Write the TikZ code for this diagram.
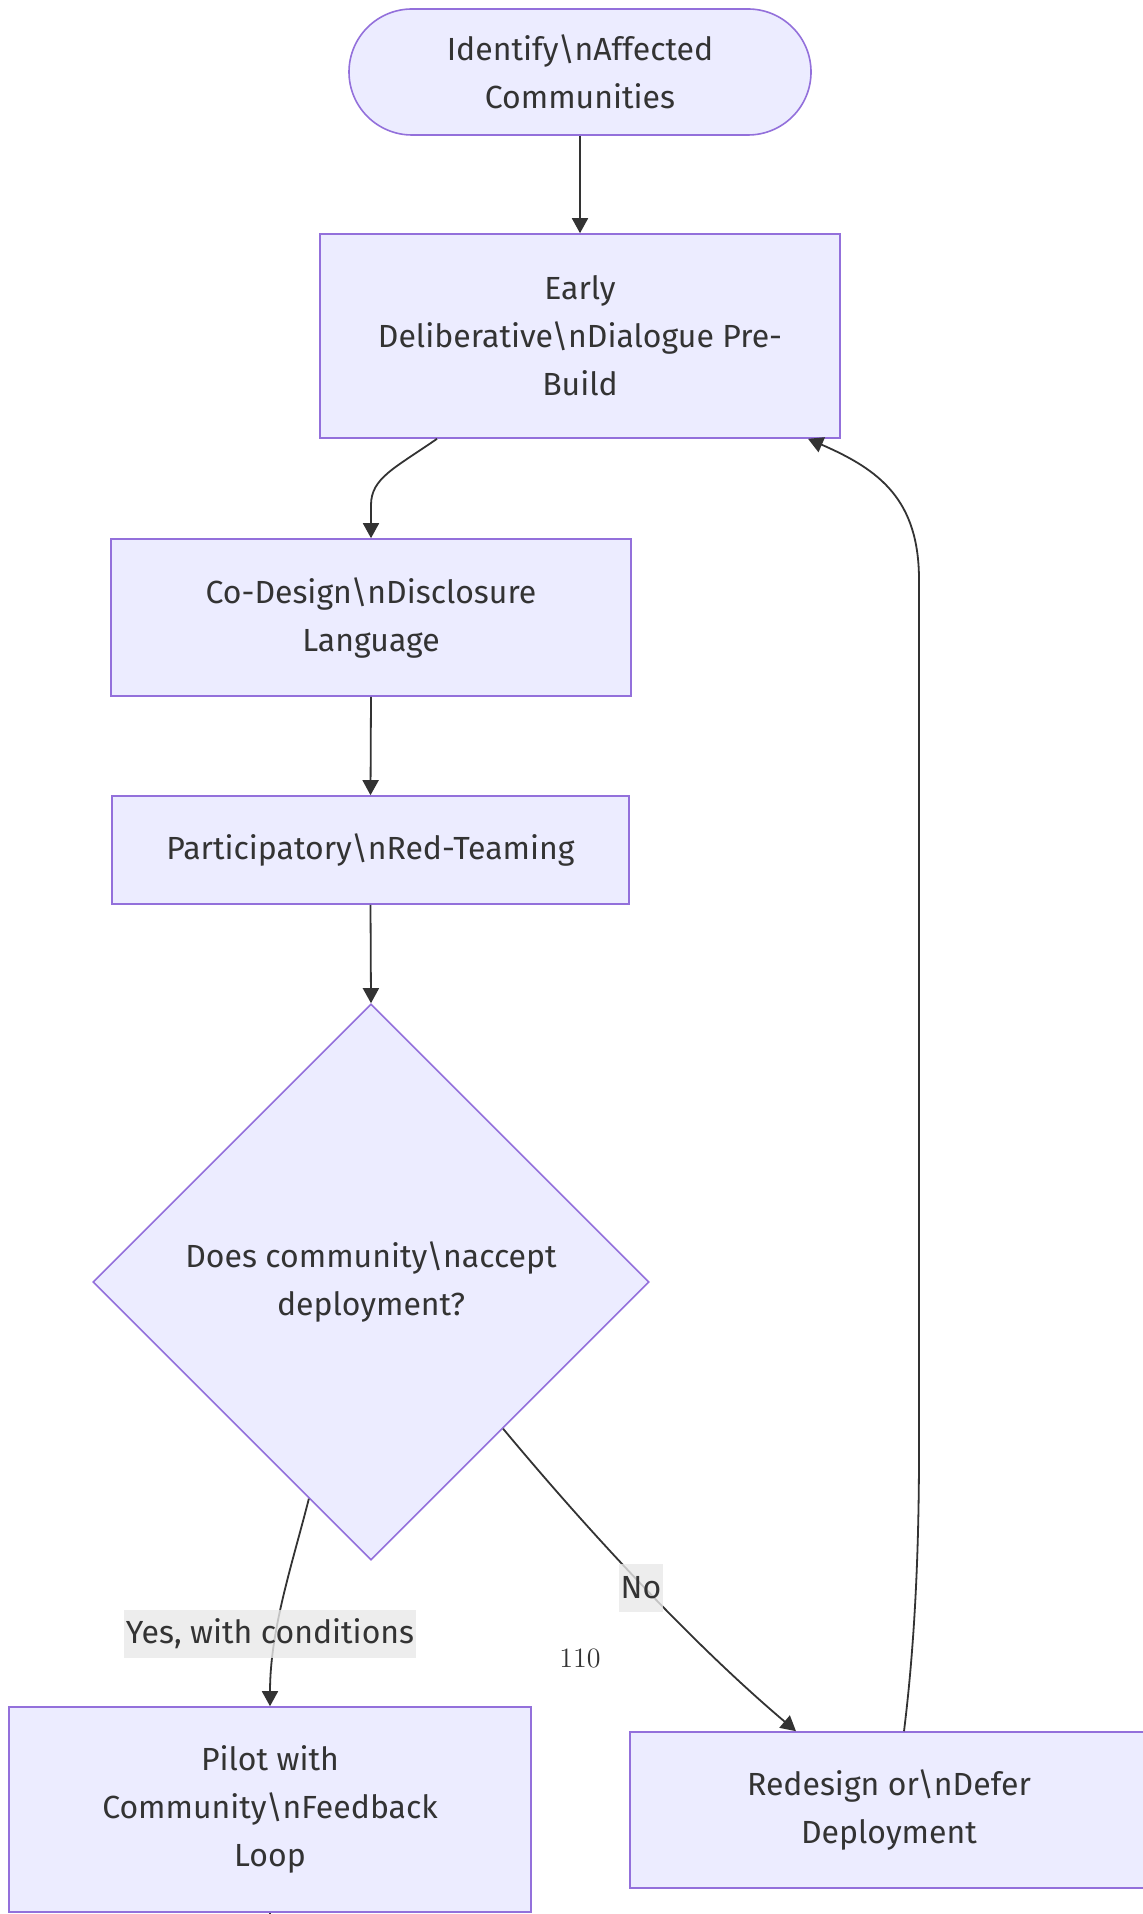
\documentclass[tikz,border=0pt]{standalone}
\usepackage{fontspec}
\setmainfont{Fira Sans}
\usetikzlibrary{arrows.meta,shapes.geometric}
\definecolor{nodefill}{HTML}{ECECFF}
\definecolor{nodeline}{HTML}{9370DB}
\definecolor{ink}{HTML}{333333}
\definecolor{lblfill}{HTML}{E8E8E8}
\newcommand{\bs}{\textbackslash}

\begin{document}
\begin{tikzpicture}[x=0.5pt,y=-0.5pt,
  txt/.style={font=\fontsize{16}{24}\selectfont, text=ink, align=center},
  box/.style={txt, draw=nodeline, fill=nodefill, line width=0.8pt, inner sep=0pt},
  stadium/.style={box, rounded corners=31.5pt},
  decision/.style={box, diamond, aspect=1, minimum width=278pt, minimum height=278pt},
  flow/.style={draw=ink, line width=0.9pt, -{Triangle[length=7.5pt,width=8pt]}},
  plain/.style={draw=ink, line width=0.9pt},
  elabel/.style={txt, fill=lblfill, fill opacity=0.8, text opacity=1, inner xsep=1pt, inner ysep=0pt, minimum height=24pt}
]
\useasboundingbox (0,0) rectangle (1143,1914);

% process nodes
\node[stadium, minimum width=231pt, minimum height=63pt] (id) at (580,72)
  {Identify\bs nAffected\\Communities};
\node[box, minimum width=260pt, minimum height=102pt] (early) at (580,336)
  {Early\\Deliberative\bs nDialogue Pre-\\Build};
\node[box, minimum width=260pt, minimum height=78.5pt] (codesign) at (371,617.5)
  {Co-Design\bs nDisclosure\\Language};
\node[box, minimum width=258.5pt, minimum height=54pt] (redteam) at (370.5,850)
  {Participatory\bs nRed-Teaming};
\node[decision] (accept) at (371,1282)
  {Does community\bs naccept\\deployment?};
\node[box, minimum width=261pt, minimum height=102.5pt] (pilot) at (270,1809.5)
  {Pilot with\\Community\bs nFeedback\\Loop};
\node[box, minimum width=259pt, minimum height=78pt] (redesign) at (889,1810)
  {Redesign or\bs nDefer\\Deployment};

\coordinate (pilotout) at (270,1940);

% connectors
\draw[flow] (id.south) -- (early.north);
\draw[flow] ([xshift=-71.5pt]early.south) .. controls (395,468) and (371,478) .. (371,505) -- (codesign.north);
\draw[flow] (codesign.south) -- (redteam.north);
\draw[flow] (redteam.south) -- (accept.north);
\draw[flow] (accept.-106) .. controls (292,1565) and (270,1630) .. (pilot.north);
\draw[flow] (accept.-48) .. controls (600,1545) and (700,1650) .. ([xshift=-46.5pt]redesign.north);
\draw[flow] ([xshift=7.5pt]redesign.north) .. controls (914,1650) and (919,1560) .. (919,1450)
  -- (919,580) .. controls (919,500) and (880,470) .. ([xshift=114pt]early.south);
\draw[plain] (pilot.south) -- (pilotout);

% edge labels
\node[elabel] (yes) at (270,1634) {Yes, with conditions};
\node[elabel] (no) at (641,1588) {No};
\node[font=\fontfamily{lmr}\fontsize{14}{16}\selectfont, text=ink] (num) at (580,1658) {110};
\end{tikzpicture}
\end{document}
